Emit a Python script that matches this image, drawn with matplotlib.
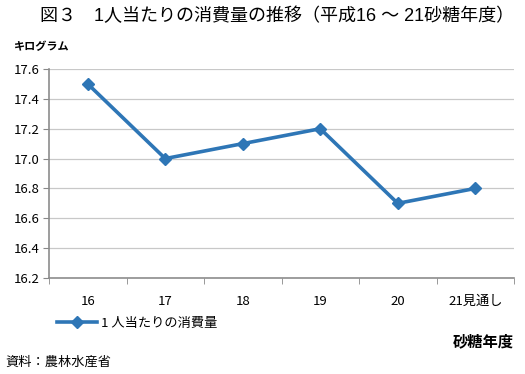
import matplotlib
matplotlib.use("Agg")
import matplotlib.pyplot as plt
from matplotlib.ticker import FixedLocator

plt.rcParams['font.family'] = ['Noto Sans CJK JP', 'DejaVu Sans']

# data
years = ["16", "17", "18", "19", "20", "21見通し"]
consumption = [17.5, 17.0, 17.1, 17.2, 16.7, 16.8]
y_ticks = [16.2, 16.4, 16.6, 16.8, 17.0, 17.2, 17.4, 17.6]
series_name = "1 人当たりの消費量"

fig = plt.figure(figsize=(5.25, 3.74), dpi=100)
ax = fig.add_axes([49 / 525, 1 - 278 / 374, (514 - 49) / 525, (278 - 69) / 374])

x = list(range(len(years)))
line, = ax.plot(x, consumption, color="#2e76b6", lw=2.6, marker="D", ms=6,
                label=series_name, zorder=3)

ax.set_xlim(-0.5, len(years) - 0.5)
ax.set_ylim(16.2, 17.6)
ax.set_yticks(y_ticks)
ax.set_yticklabels([f"{v:.1f}" for v in y_ticks])
ax.set_xticks(x)
ax.set_xticklabels(years)
ax.xaxis.set_minor_locator(FixedLocator([i - 0.5 for i in range(len(years) + 1)]))
ax.tick_params(axis="x", which="major", length=0, pad=12, labelsize=9.5)
ax.tick_params(axis="x", which="minor", length=4, color="#888888")
ax.tick_params(axis="y", length=4, color="#888888", pad=3, labelsize=9.5)

ax.grid(axis="y", color="#c8c8c8", lw=0.9)
ax.set_axisbelow(True)
for side in ("top", "right"):
    ax.spines[side].set_visible(False)
for side in ("left", "bottom"):
    ax.spines[side].set_color("#8c8c8c")
    ax.spines[side].set_linewidth(1.2)

fig.text(0.527, 1 - 16 / 374, "図３　1人当たりの消費量の推移（平成16 ～ 21砂糖年度）",
         ha="center", va="center", fontsize=13,
         family=['Liberation Sans', 'Noto Sans CJK JP'])
fig.text(14 / 525, 1 - 47 / 374, "キログラム", ha="left", va="center",
         fontsize=8, fontweight="bold")
fig.text(514 / 525, 1 - 341 / 374, "砂糖年度", ha="right", va="center",
         fontsize=11, fontweight="bold")
fig.text(5 / 525, 1 - 362 / 374, "資料：農林水産省", ha="left", va="center",
         fontsize=9.5)

fig.legend(handles=[line], loc="center left", bbox_to_anchor=(57 / 525, 1 - 323 / 374),
           frameon=False, fontsize=9.5, handlelength=3, handletextpad=0.3,
           borderpad=0, borderaxespad=0)

fig.savefig("out.png", dpi=100)
